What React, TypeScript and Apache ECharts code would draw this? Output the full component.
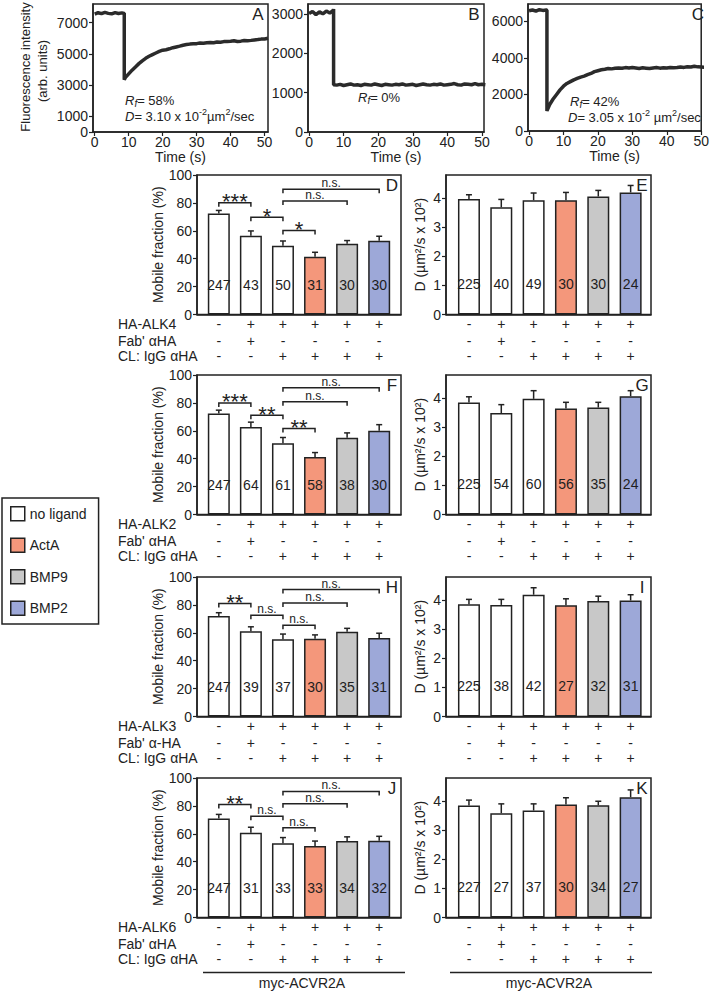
import React, { useEffect, useRef } from "react";
import * as echarts from "echarts";

const FONT = "'Liberation Sans', Arial, Helvetica, sans-serif";
const INK = "#222222";

// ---------- FRAP traces (panels A–C) ----------
const timeA = [0, 1, 2, 3, 4, 5, 6, 7, 8, 8.7, 8.7, 9, 10, 11, 12, 13, 14, 15, 16, 17, 18, 19, 20, 21, 22, 23, 24, 25, 26, 27, 28, 29, 30, 31, 32, 33, 34, 35, 36, 37, 38, 39, 40, 41, 42, 43, 44, 45, 46, 47, 48, 49, 50, 51];
const fluorA = [7550, 7640, 7580, 7660, 7600, 7570, 7650, 7590, 7630, 7600, 3350, 3480, 3720, 3960, 4170, 4380, 4560, 4720, 4850, 4960, 5060, 5160, 5240, 5270, 5330, 5400, 5450, 5500, 5560, 5600, 5630, 5650, 5660, 5700, 5690, 5720, 5740, 5720, 5760, 5750, 5790, 5800, 5810, 5840, 5800, 5820, 5860, 5850, 5870, 5900, 5920, 5950, 5960, 6000];
const timeB = [0, 1, 2, 3, 4, 5, 6, 7, 7.1, 7.1, 8, 9, 10, 11, 12, 13, 14, 15, 16, 17, 18, 19, 20, 21, 22, 23, 24, 25, 26, 27, 28, 29, 30, 31, 32, 33, 34, 35, 36, 37, 38, 39, 40, 41, 42, 43, 44, 45, 46, 47, 48, 49, 50, 51];
const fluorB = [3010, 3060, 2980, 3050, 3000, 3070, 3020, 3090, 3120, 1200, 1190, 1210, 1180, 1200, 1220, 1190, 1200, 1180, 1210, 1200, 1190, 1220, 1200, 1180, 1210, 1200, 1190, 1210, 1200, 1220, 1190, 1200, 1210, 1180, 1200, 1220, 1200, 1190, 1210, 1200, 1220, 1190, 1200, 1210, 1230, 1200, 1190, 1220, 1210, 1200, 1230, 1200, 1210, 1200];
const timeC = [0, 1, 2, 3, 4, 5, 5.2, 5.2, 6, 7, 8, 9, 10, 11, 12, 13, 14, 15, 16, 17, 18, 19, 20, 21, 22, 23, 24, 25, 26, 27, 28, 29, 30, 31, 32, 33, 34, 35, 36, 37, 38, 39, 40, 41, 42, 43, 44, 45, 46, 47, 48, 49, 50, 51];
const fluorC = [6580, 6620, 6560, 6640, 6600, 6620, 6610, 1100, 1450, 1750, 2000, 2250, 2450, 2600, 2700, 2800, 2880, 2950, 3000, 3080, 3150, 3250, 3300, 3350, 3380, 3420, 3400, 3430, 3450, 3430, 3470, 3450, 3480, 3450, 3420, 3460, 3440, 3420, 3450, 3470, 3440, 3460, 3450, 3480, 3460, 3470, 3500, 3480, 3520, 3500, 3540, 3510, 3500, 3480];
const ticksA = [0, 1000, 3000, 5000, 7000];
const ticksB = [0, 1000, 2000, 3000];
const ticksC = [0, 2000, 4000, 6000];
const timeTicks = [0, 10, 20, 30, 40, 50];
const mobileTicks = [0, 20, 40, 60, 80, 100];
const diffTicks = [0, 1, 2, 3, 4];

// ---------- conditions ----------
const conditionColors = ["#ffffff", "#ffffff", "#ffffff", "#f4977b", "#c8c8c8", "#9da8d8"];
const legendNames = ["no ligand", "ActA", "BMP9", "BMP2"];
const legendColors = ["#ffffff", "#f4977b", "#c8c8c8", "#9da8d8"];
const signsReceptor = ["-", "+", "+", "+", "+", "+"];
const signsFab = ["-", "+", "-", "-", "-", "-"];
const signsIgG = ["-", "-", "+", "+", "+", "+"];

// ---------- Mobile fraction (%) ----------
const mobileD = [72.4, 56.4, 49.3, 41.4, 50.7, 52.8];
const mobileErrD = [2.2, 3.5, 3.4, 3.2, 2.3, 3.3];
const countsD = ["247", "43", "50", "31", "30", "30"];
const bracketsD = [[0, 1, 80.1], [1, 2, 69.8], [2, 3, 60.2], [2, 4, 81.3], [2, 5, 89.8]];
const marksD = ["***", "*", "*", "n.s.", "n.s."];

const mobileF = [72.4, 62.8, 51.0, 41.3, 55.0, 60.0];
const mobileErrF = [2.4, 3.4, 4.2, 3.1, 3.5, 4.4];
const countsF = ["247", "64", "61", "58", "38", "30"];
const bracketsF = [[0, 1, 80.0], [1, 2, 71.2], [2, 3, 61.6], [2, 4, 80.8], [2, 5, 90.8]];
const marksF = ["***", "**", "**", "n.s.", "n.s."];

const mobileH = [72.0, 61.2, 55.4, 55.8, 60.8, 56.2];
const mobileErrH = [2.4, 3.1, 3.7, 2.7, 2.4, 3.5];
const countsH = ["247", "39", "37", "30", "35", "31"];
const bracketsH = [[0, 1, 81.0], [1, 2, 72.6], [2, 3, 65.5], [2, 4, 81.4], [2, 5, 91.0]];
const marksH = ["**", "n.s.", "n.s.", "n.s.", "n.s."];

const mobileJ = [71.0, 60.8, 53.3, 51.3, 54.8, 55.0];
const mobileErrJ = [2.9, 3.9, 4.0, 3.5, 3.0, 3.2];
const countsJ = ["247", "31", "33", "33", "34", "32"];
const bracketsJ = [[0, 1, 81.0], [1, 2, 72.6], [2, 3, 64.3], [2, 4, 81.6], [2, 5, 90.4]];
const marksJ = ["**", "n.s.", "n.s.", "n.s.", "n.s."];

// ---------- Diffusion coefficient (µm²/s x 10²) ----------
const diffE = [3.97, 3.69, 3.93, 3.93, 4.06, 4.2];
const diffErrE = [0.15, 0.27, 0.25, 0.27, 0.21, 0.24];
const countsE = ["225", "40", "49", "30", "30", "24"];

const diffG = [3.85, 3.49, 3.98, 3.65, 3.68, 4.07];
const diffErrG = [0.2, 0.29, 0.28, 0.21, 0.18, 0.19];
const countsG = ["225", "54", "60", "56", "35", "24"];

const diffI = [3.86, 3.84, 4.19, 3.83, 3.97, 3.99];
const diffErrI = [0.17, 0.19, 0.24, 0.22, 0.17, 0.2];
const countsI = ["225", "38", "42", "27", "32", "31"];

const diffK = [3.85, 3.59, 3.68, 3.89, 3.86, 4.14];
const diffErrK = [0.19, 0.32, 0.23, 0.23, 0.14, 0.25];
const countsK = ["227", "27", "37", "30", "34", "27"];

const receptorNames = ["HA-ALK4", "HA-ALK2", "HA-ALK3", "HA-ALK6"];
const fabNames = ["Fab' \u03b1HA", "Fab' \u03b1HA", "Fab' \u03b1-HA", "Fab' \u03b1HA"];
const igGName = "CL: IgG \u03b1HA";
const footerName = "myc-ACVR2A";

// ---------- layout ----------
const ROW_TOPS = [175, 375, 577, 778];
const ROW_H = 139.5;
const LEFT_X = 197;
const LEFT_W = 204;
const RIGHT_X = 446;
const RIGHT_W = 205;
const TABLE_OFFSETS = [9.5, 26, 41.5];

function txt(extra: any) {
  return { fontFamily: FONT, fill: INK, stroke: "transparent", lineWidth: 0, ...extra };
}

function buildOption() {
  const grid: any[] = [];
  const xAxis: any[] = [];
  const yAxis: any[] = [];
  const series: any[] = [];
  const graphic: any[] = [];

  const labelStyle = { fontSize: 14, color: INK, fontFamily: FONT };
  const axisLine = { show: true, onZero: false, lineStyle: { color: INK, width: 1.5 } };
  const tickLine = { color: INK, width: 1.2 };
  const plain = (v: number) => String(v);
  const inkItem = { color: INK };

  // ---- FRAP panels ----
  const traces = [
    { t: timeA, v: fluorA, ticks: ticksA, box: [93, 4, 175, 128], xr: [-0.5, 51], yMax: 8200, letter: "A" },
    { t: timeB, v: fluorB, ticks: ticksB, box: [308, 4, 176, 128], xr: [-0.3, 50.6], yMax: 3250, letter: "B" },
    { t: timeC, v: fluorC, ticks: ticksC, box: [528, 4, 180, 127], xr: [-0.3, 50], yMax: 6950, letter: "C" },
  ];
  traces.forEach((tr, k) => {
    const [l, t, w, h] = tr.box;
    grid.push({ left: l, top: t, width: w, height: h, show: true, borderColor: INK, borderWidth: 1.5 });
    xAxis.push({
      type: "value", gridIndex: k, min: tr.xr[0], max: tr.xr[1],
      name: "Time (s)", nameLocation: "middle", nameGap: 17, nameTextStyle: labelStyle,
      axisLine, axisTick: { show: true, length: 4, customValues: timeTicks, lineStyle: tickLine },
      axisLabel: { ...labelStyle, margin: 3, customValues: timeTicks, formatter: plain },
      splitLine: { show: false },
    });
    yAxis.push({
      type: "value", gridIndex: k, min: 0, max: tr.yMax,
      axisLine, axisTick: { show: true, length: 4, customValues: tr.ticks, lineStyle: tickLine },
      axisLabel: { ...labelStyle, margin: 5, customValues: tr.ticks, formatter: plain },
      splitLine: { show: false },
    });
    series.push({
      type: "line", xAxisIndex: k, yAxisIndex: k, symbol: "none", z: 2,
      data: tr.t.map((x, i) => [x, tr.v[i]]),
      itemStyle: { color: "#2b2b2b" },
      lineStyle: { color: "#2b2b2b", width: 3.5 },
    });
    graphic.push({ type: "text", x: l + w - 10, y: t + 10, style: txt({ text: tr.letter, fontSize: 17, align: "center", verticalAlign: "middle" }) });
  });

  // ---- bar panels ----
  const leftPanels = [
    { v: mobileD, e: mobileErrD, n: countsD, b: bracketsD, m: marksD, letter: "D" },
    { v: mobileF, e: mobileErrF, n: countsF, b: bracketsF, m: marksF, letter: "F" },
    { v: mobileH, e: mobileErrH, n: countsH, b: bracketsH, m: marksH, letter: "H" },
    { v: mobileJ, e: mobileErrJ, n: countsJ, b: bracketsJ, m: marksJ, letter: "J" },
  ];
  const rightPanels = [
    { v: diffE, e: diffErrE, n: countsE, letter: "E" },
    { v: diffG, e: diffErrG, n: countsG, letter: "G" },
    { v: diffI, e: diffErrI, n: countsI, letter: "I" },
    { v: diffK, e: diffErrK, n: countsK, letter: "K" },
  ];

  const addBarPanel = (gi: number, cfg: any) => {
    grid.push({ left: cfg.left, top: cfg.top, width: cfg.width, height: ROW_H, show: true, borderColor: INK, borderWidth: 1.5 });
    xAxis.push({
      type: "value", gridIndex: gi, min: cfg.xr[0], max: cfg.xr[1],
      axisLine, axisTick: { show: false }, axisLabel: { show: false }, splitLine: { show: false },
    });
    yAxis.push({
      type: "value", gridIndex: gi, min: 0, max: cfg.yMax,
      name: cfg.name, nameLocation: "middle", nameGap: cfg.nameGap, nameTextStyle: labelStyle,
      axisLine, axisTick: { show: true, length: 4, customValues: cfg.ticks, lineStyle: tickLine },
      axisLabel: { ...labelStyle, margin: 5, customValues: cfg.ticks, formatter: plain },
      splitLine: { show: false },
    });
    series.push({
      type: "bar", xAxisIndex: gi, yAxisIndex: gi, barWidth: 22, z: 2,
      itemStyle: { borderColor: INK, borderWidth: 1.5 },
      data: cfg.v.map((val: number, i: number) => ({ value: [i, val], itemStyle: { color: conditionColors[i] } })),
    });
    // error bars
    series.push({
      type: "custom", xAxisIndex: gi, yAxisIndex: gi, z: 3, itemStyle: inkItem,
      data: cfg.v.map((val: number, i: number) => [i, val, val + cfg.e[i]]),
      renderItem: (params: any, api: any) => {
        const lo = api.coord([api.value(0), api.value(1)]);
        const hi = api.coord([api.value(0), api.value(2)]);
        return {
          type: "group",
          children: [
            { type: "line", shape: { x1: lo[0], y1: lo[1], x2: hi[0], y2: hi[1] }, style: { stroke: INK, lineWidth: 1.5 } },
            { type: "line", shape: { x1: hi[0] - 3, y1: hi[1], x2: hi[0] + 3, y2: hi[1] }, style: { stroke: INK, lineWidth: 1.5 } },
          ],
        };
      },
    });
    // counts inside bars
    series.push({
      type: "custom", xAxisIndex: gi, yAxisIndex: gi, z: 4, itemStyle: inkItem,
      data: cfg.n.map((_: string, i: number) => [i, cfg.countY]),
      renderItem: (params: any, api: any) => {
        const p = api.coord([api.value(0), api.value(1)]);
        return { type: "text", x: p[0], y: p[1], style: txt({ text: cfg.n[params.dataIndex], fontSize: 14, fill: "#1e1e1e", align: "center", verticalAlign: "middle" }) };
      },
    });
    // significance brackets
    if (cfg.b) {
      series.push({
        type: "custom", xAxisIndex: gi, yAxisIndex: gi, z: 4, itemStyle: inkItem,
        data: cfg.b.map((br: number[]) => [br[0], br[1], br[2]]),
        renderItem: (params: any, api: any) => {
          const a = api.coord([api.value(0), api.value(2)]);
          const b = api.coord([api.value(1), api.value(2)]);
          const label = cfg.m[params.dataIndex];
          const star = label.indexOf("*") >= 0;
          return {
            type: "group",
            children: [
              { type: "polyline", shape: { points: [[a[0], a[1] + 4], [a[0], a[1]], [b[0], b[1]], [b[0], b[1] + 4]] }, style: { stroke: INK, lineWidth: 1.5, fill: "none" } },
              { type: "text", x: (a[0] + b[0]) / 2, y: a[1] - (star ? 1 : 6), style: txt({ text: label, fontSize: star ? 22 : 12, align: "center", verticalAlign: "middle" }) },
            ],
          };
        },
      });
    }
    // condition table under the panel
    series.push({
      type: "custom", xAxisIndex: gi, yAxisIndex: gi, z: 4, itemStyle: inkItem,
      data: cfg.v.map((_: number, i: number) => [i, 0]),
      renderItem: (params: any, api: any) => {
        const i = params.dataIndex;
        const p = api.coord([api.value(0), 0]);
        const rows = [signsReceptor, signsFab, signsIgG];
        return {
          type: "group",
          children: rows.map((r, k) => ({ type: "text", x: p[0], y: p[1] + TABLE_OFFSETS[k], style: txt({ text: r[i], fontSize: 14, align: "center", verticalAlign: "middle" }) })),
        };
      },
    });
    graphic.push({ type: "text", x: cfg.left + cfg.width - 9, y: cfg.top + 10, style: txt({ text: cfg.letter, fontSize: 17, align: "center", verticalAlign: "middle" }) });
  };

  for (let r = 0; r < 4; r++) {
    const top = ROW_TOPS[r];
    const lp = leftPanels[r];
    addBarPanel(3 + r * 2, {
      left: LEFT_X, top, width: LEFT_W, xr: [-0.68, 5.68], yMax: 100, ticks: mobileTicks,
      name: "Mobile fraction (%)", nameGap: 27, countY: 21.5,
      v: lp.v, e: lp.e, n: lp.n, b: lp.b, m: lp.m, letter: lp.letter,
    });
    const rp = rightPanels[r];
    addBarPanel(4 + r * 2, {
      left: RIGHT_X, top, width: RIGHT_W, xr: [-0.71, 5.63], yMax: 4.8, ticks: diffTicks,
      name: "D (\u00b5m\u00b2/s x 10\u00b2)", nameGap: 19, countY: 1.05,
      v: rp.v, e: rp.e, n: rp.n, letter: rp.letter,
    });
    const bottom = top + ROW_H;
    const rowLabels = [receptorNames[r], fabNames[r], igGName];
    rowLabels.forEach((lab, k) => {
      graphic.push({ type: "text", x: 118, y: bottom + TABLE_OFFSETS[k], style: txt({ text: lab, fontSize: 14, align: "left", verticalAlign: "middle" }) });
    });
  }

  // hidden grid for legend-only series
  grid.push({ left: 0, top: 0, width: 1, height: 1, show: false });
  xAxis.push({ type: "value", gridIndex: 11, show: false });
  yAxis.push({ type: "value", gridIndex: 11, show: false });
  legendNames.forEach((name, i) => {
    series.push({ type: "bar", name, xAxisIndex: 11, yAxisIndex: 11, data: [], itemStyle: { color: legendColors[i], borderColor: INK, borderWidth: 1.5 } });
  });

  // y-axis title of panel A
  graphic.push({ type: "text", x: 25, y: 67, rotation: Math.PI / 2, style: txt({ text: "Fluorescence intensity", fontSize: 13, align: "center", verticalAlign: "middle" }) });
  graphic.push({ type: "text", x: 42, y: 71, rotation: Math.PI / 2, style: txt({ text: "(arb. units)", fontSize: 13, align: "center", verticalAlign: "middle" }) });

  // fit annotations
  const rich = {
    it: { fontStyle: "italic", fontSize: 13, fontFamily: FONT, color: INK, lineHeight: 17 },
    sub: { fontStyle: "italic", fontSize: 10, fontFamily: FONT, color: INK, verticalAlign: "bottom" },
    n: { fontSize: 13, fontFamily: FONT, color: INK, lineHeight: 17 },
    sup: { fontSize: 9, fontFamily: FONT, color: INK, verticalAlign: "top" },
  };
  const ann = (x: number, y: number, text: string) =>
    graphic.push({ type: "text", x, y, style: { text, rich, fontFamily: FONT, fontSize: 13, fill: INK, align: "left", verticalAlign: "middle" } });
  ann(125, 100, "{it|R}{sub|f}{n|= 58%}");
  ann(125, 116, "{it|D}{n|= 3.10 x 10}{sup|-2}{n|\u00b5m}{sup|2}{n|/sec}");
  ann(358, 97, "{it|R}{sub|f}{n|= 0%}");
  ann(570, 101, "{it|R}{sub|f}{n|= 42%}");
  ann(568, 117, "{it|D}{n|= 3.05 x 10}{sup|-2}{n| \u00b5m}{sup|2}{n|/sec}");

  // footer
  graphic.push({ type: "line", shape: { x1: 203, y1: 972.5, x2: 405, y2: 972.5 }, style: { stroke: INK, lineWidth: 1.5 } });
  graphic.push({ type: "line", shape: { x1: 450, y1: 972.5, x2: 652, y2: 972.5 }, style: { stroke: INK, lineWidth: 1.5 } });
  graphic.push({ type: "text", x: 302, y: 983, style: txt({ text: footerName, fontSize: 14, align: "center", verticalAlign: "middle" }) });
  graphic.push({ type: "text", x: 549, y: 983, style: txt({ text: footerName, fontSize: 14, align: "center", verticalAlign: "middle" }) });

  return {
    animation: false,
    backgroundColor: "#ffffff",
    textStyle: { fontFamily: FONT },
    grid,
    xAxis,
    yAxis,
    series,
    graphic,
    legend: {
      show: true, orient: "vertical", left: 2, top: 498,
      itemWidth: 14, itemHeight: 14, itemGap: 16, icon: "rect",
      borderColor: INK, borderWidth: 1.5, padding: [8, 12, 8, 8],
      textStyle: { fontSize: 14, color: INK, fontFamily: FONT },
      itemStyle: { borderColor: INK, borderWidth: 1.5 },
      selectedMode: false, data: legendNames,
    },
  };
}

export default function App() {
  const ref = useRef<HTMLDivElement>(null);
  useEffect(() => {
    if (!ref.current) return;
    const chart = echarts.init(ref.current, undefined, { renderer: "svg" });
    chart.setOption(buildOption() as any);
    return () => chart.dispose();
  }, []);
  return (
    <div
      ref={ref}
      style={{ position: "absolute", left: 0, top: 0, width: 712, height: 991, background: "#fff" }}
    />
  );
}
